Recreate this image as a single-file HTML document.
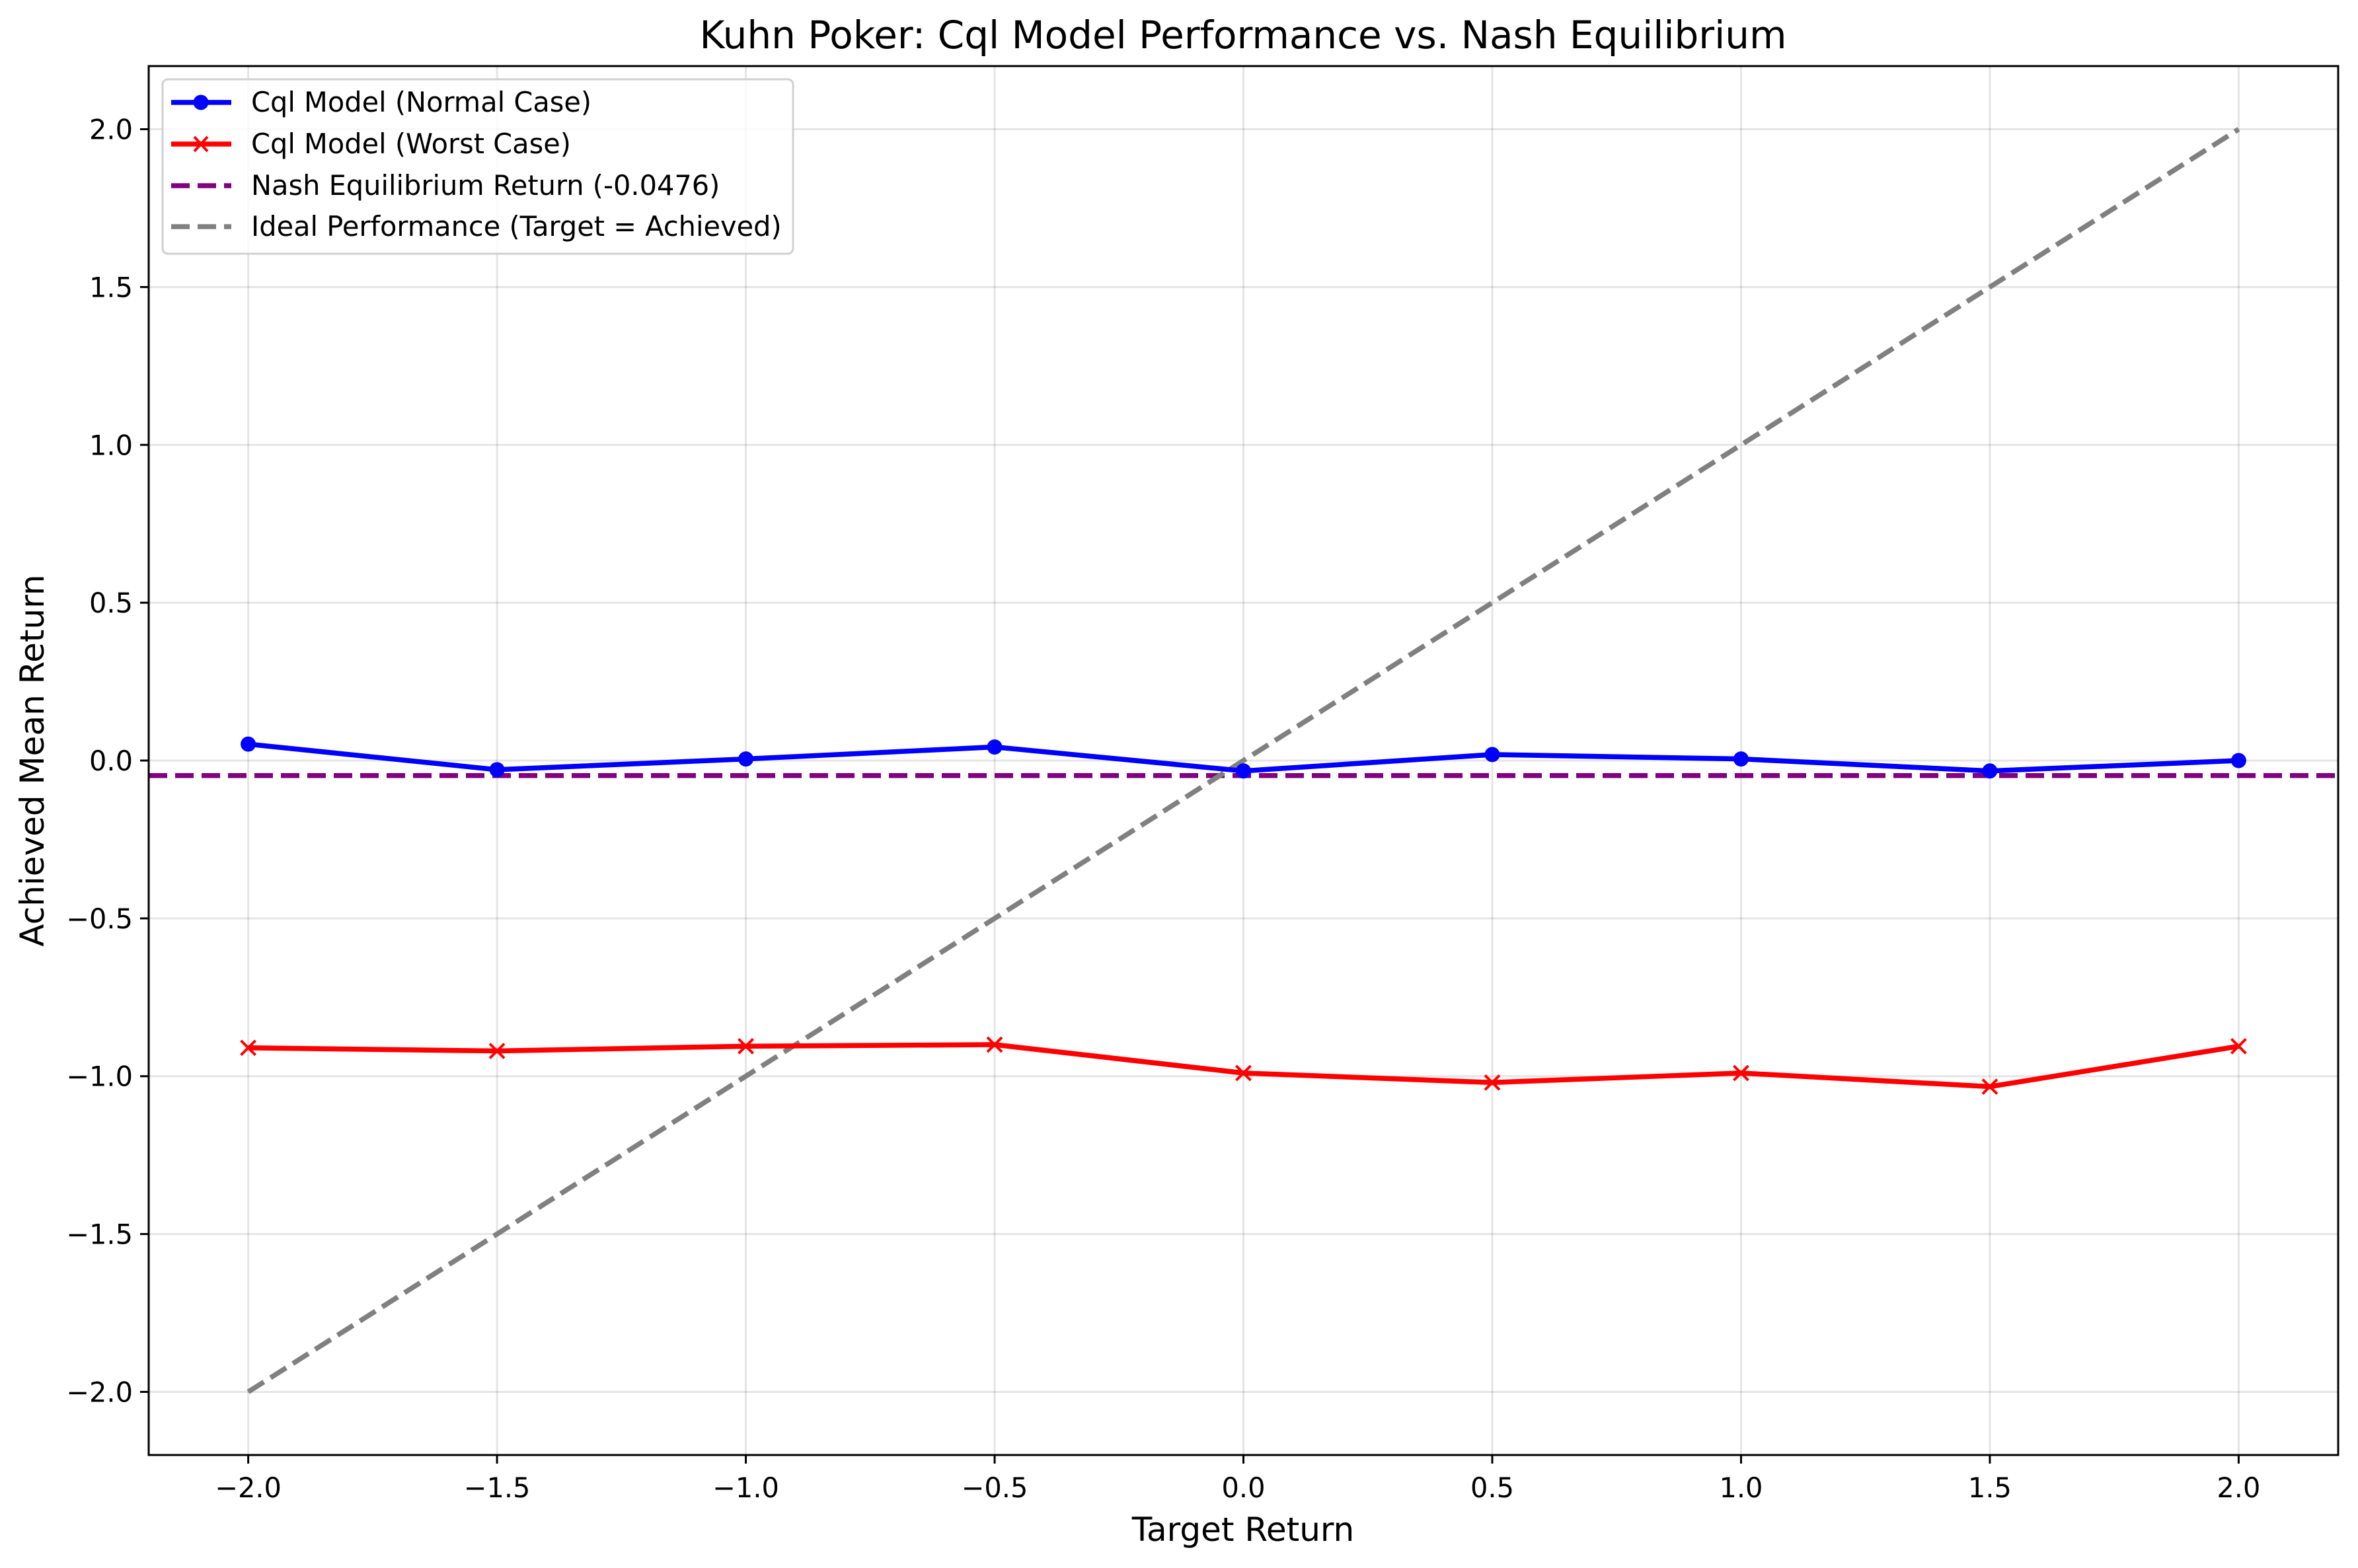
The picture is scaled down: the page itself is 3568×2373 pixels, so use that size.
<!DOCTYPE html>
<html><head><meta charset="utf-8"><style>
body{margin:0;background:#fff}
svg text{font-family:"DejaVu Sans","Liberation Sans",sans-serif}
</style></head><body>
<svg id="chart" width="3568" height="2368" xmlns="http://www.w3.org/2000/svg">
<rect width="3568" height="2368" fill="#fff"/>
<g id="grid"></g>
<g id="series"></g>
<rect x="225" y="100" width="3313" height="2102" fill="none" stroke="#000" stroke-width="3"/>
<g id="ticks"></g>
<text x="1881" y="73" font-size="58" text-anchor="middle">Kuhn Poker: Cql Model Performance vs. Nash Equilibrium</text>
<text x="1881" y="2332" font-size="50" text-anchor="middle">Target Return</text>
<text x="66" y="1151" font-size="50" text-anchor="middle" transform="rotate(-90 66 1151)">Achieved Mean Return</text>
<g id="legend">
<rect x="246" y="120" width="954" height="264" rx="8" fill="#fff" fill-opacity="0.8" stroke="#d0d0d0" stroke-width="3"/>
<g><line x1="259" y1="155" x2="350" y2="155" stroke="#0000ff" stroke-width="7.6"/><circle cx="304" cy="155" r="11.5" fill="#0000ff"/><text x="380" y="169" font-size="41.5">Cql Model (Normal Case)</text></g>
<g><line x1="259" y1="218" x2="350" y2="218" stroke="#ff0000" stroke-width="7.6"/><path d="M294 207L314 229M314 207L294 229" stroke="#ff0000" stroke-width="4"/><text x="380" y="232" font-size="41.5">Cql Model (Worst Case)</text></g>
<g><line x1="259" y1="281" x2="350" y2="281" stroke="#800080" stroke-width="7.6" stroke-dasharray="28 12"/><text x="380" y="295" font-size="41.5">Nash Equilibrium Return (-0.0476)</text></g>
<g><line x1="259" y1="343" x2="350" y2="343" stroke="#808080" stroke-width="7.6" stroke-dasharray="28 12"/><text x="380" y="357" font-size="41.5">Ideal Performance (Target = Achieved)</text></g>
</g>
</svg>
<script>
const targets=[-2.0,-1.5,-1.0,-0.5,0.0,0.5,1.0,1.5,2.0];
const normalCase=[0.052,-0.029,0.005,0.043,-0.033,0.019,0.005,-0.033,0.0];
const worstCase=[-0.91,-0.92,-0.905,-0.90,-0.99,-1.02,-0.99,-1.033,-0.905];
const nashReturn=-0.0476;
const xTicks=[-2.0,-1.5,-1.0,-0.5,0.0,0.5,1.0,1.5,2.0];
const yTicks=[-2.0,-1.5,-1.0,-0.5,0.0,0.5,1.0,1.5,2.0];
const xMin=-2.2,xMax=2.2,yMin=-2.2,yMax=2.2;
const L=225,R=3538,T=100,B=2202;
const sx=v=>L+(v-xMin)/(xMax-xMin)*(R-L);
const sy=v=>B-(v-yMin)/(yMax-yMin)*(B-T);
const NS='http://www.w3.org/2000/svg';
function mk(parent,tag,attrs){const e=document.createElementNS(NS,tag);for(const k in attrs)e.setAttribute(k,attrs[k]);parent.appendChild(e);return e;}
const grid=document.getElementById('grid'),ticks=document.getElementById('ticks'),ser=document.getElementById('series');
const fmt=v=>(v<0?'\u2212':'')+Math.abs(v).toFixed(1);
xTicks.forEach(v=>{
 const g=mk(grid,'line',{x1:sx(v),x2:sx(v),y1:T,y2:B,stroke:'#000','stroke-opacity':0.1,'stroke-width':3});
 
 
 const t=mk(ticks,'line',{x1:sx(v),x2:sx(v),y1:B,y2:B+13,stroke:'#000','stroke-width':3});
 
 
 const l=mk(ticks,'text',{x:sx(v),y:B+64,'font-size':41.5,'text-anchor':'middle'});
 l.textContent=fmt(v);
 
 
});
yTicks.forEach(v=>{
 const g=mk(grid,'line',{x1:L,x2:R,y1:sy(v),y2:sy(v),stroke:'#000','stroke-opacity':0.1,'stroke-width':3});
 
 
 const t=mk(ticks,'line',{x1:L-13,x2:L,y1:sy(v),y2:sy(v),stroke:'#000','stroke-width':3});
 
 
 const l=mk(ticks,'text',{x:L-24,y:sy(v)+15,'font-size':41.5,'text-anchor':'end'});
 l.textContent=fmt(v);
 
 
});
const nash=mk(ser,'line',{x1:L,x2:R,y1:sy(nashReturn),y2:sy(nashReturn),stroke:'#800080','stroke-width':7.6,'stroke-dasharray':'28 12'});


const ideal=mk(ser,'line',{x1:sx(targets[0]),y1:sy(targets[0]),x2:sx(targets[targets.length-1]),y2:sy(targets[targets.length-1]),stroke:'#808080','stroke-width':7.6,'stroke-dasharray':'28 12'});


const pn=mk(ser,'polyline',{points:targets.map((x,i)=>sx(x)+','+sy(normalCase[i])).join(' '),fill:'none',stroke:'#0000ff','stroke-width':7.6,'stroke-linejoin':'round'});


targets.forEach((x,i)=>{
 const c=mk(ser,'circle',{cx:sx(x),cy:sy(normalCase[i]),r:11.5,fill:'#0000ff'});
 
 
});
const pw=mk(ser,'polyline',{points:targets.map((x,i)=>sx(x)+','+sy(worstCase[i])).join(' '),fill:'none',stroke:'#ff0000','stroke-width':7.6,'stroke-linejoin':'round'});


targets.forEach((x,i)=>{
 const cx=sx(x),cy=sy(worstCase[i]);
 const m=mk(ser,'path',{d:`M${cx-11} ${cy-11}L${cx+11} ${cy+11}M${cx+11} ${cy-11}L${cx-11} ${cy+11}`,stroke:'#ff0000','stroke-width':4});
 
 
});
</script>
</body></html>
